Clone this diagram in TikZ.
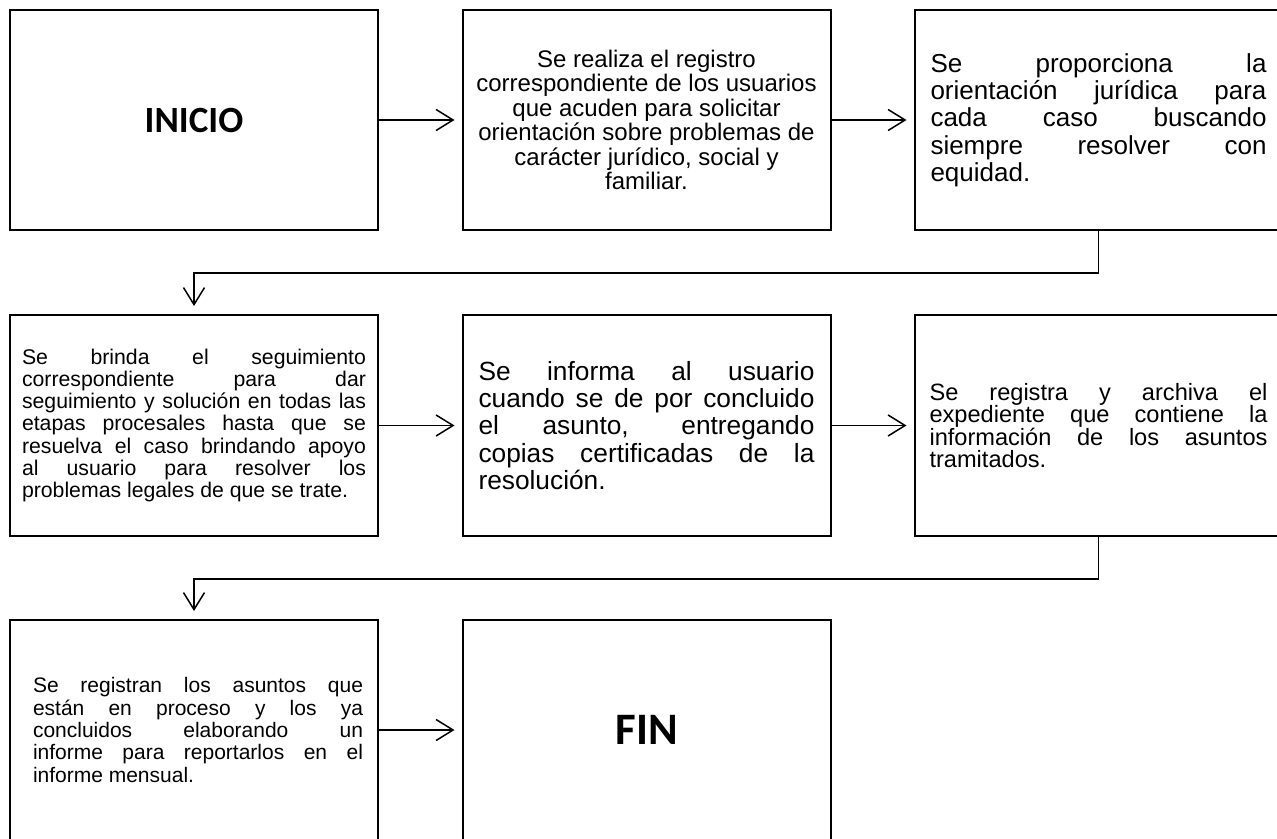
\documentclass[tikz,border=0pt]{standalone}
\usepackage{fontspec}
\setmainfont{Liberation Sans}
\newfontfamily\calib{Carlito}
\usetikzlibrary{arrows.meta}
\begin{document}
\begin{tikzpicture}[x=1pt,y=-1pt,
  box/.style={draw=black, line width=2pt, fill=white, inner sep=0pt,
    minimum width=368pt, minimum height=220pt},
  jtext/.style={align=justify, text width=#1},
  conn/.style={line width=1.5pt, draw=black,
    -{Straight Barb[length=17pt,width=21pt,line width=1.5pt]}},
  fs/.style n args={2}{font={\fontsize{#1}{#2}\selectfont\lineskiplimit=-100pt\tolerance=10000\hyphenpenalty=10000\relax}}
]
\useasboundingbox (0,0) rectangle (1277,838);
\clip (0,0) rectangle (1277,838);
\fill[white] (0,0) rectangle (1277,838);

% Row 1
\node[box] (b1) at (194,120) {\calib\fontsize{37}{40}\selectfont\bfseries INICIO};
\node[box, align=center, fs={24}{24.5}] (b2) at (646.5,120)
  {Se realiza el registro\\correspondiente de los usuarios\\que acuden para solicitar\\orientación sobre problemas de\\carácter jurídico, social y\\familiar.};
\node[box, jtext=336pt, fs={26}{27.3}] (b3) at (1098.5,120)
  {Se proporciona la\linebreak orientación jurídica para\linebreak cada caso buscando\linebreak siempre resolver con\linebreak equidad.};

% Row 2
\node[box, minimum height=221pt, jtext=344pt, fs={21.25}{22.1}] (b4) at (194,425.5)
  {Se brinda el seguimiento\linebreak correspondiente para dar\linebreak seguimiento y solución en todas las\linebreak etapas procesales hasta que se\linebreak resuelva el caso brindando apoyo\linebreak al usuario para resolver los\linebreak problemas legales de que se trate.};
\node[box, minimum height=221pt, jtext=336pt, fs={26.3}{27.3}] (b5) at (646.5,425.5)
  {Se informa al usuario\linebreak cuando se de por concluido\linebreak el asunto, entregando\linebreak copias certificadas de la\linebreak resolución.};
\node[box, minimum height=221pt, jtext=338pt, fs={23.6}{22.2}] (b6) at (1098.5,425.5)
  {Se registra y archiva el\linebreak expediente que contiene la\linebreak información de los asuntos\linebreak tramitados.};

% Row 3
\node[box] (b7) at (194,730) {};
\node[jtext=330pt, fs={21}{22.3}, inner sep=0pt] (b7t) at (198,730)
  {Se registran los asuntos que\linebreak están en proceso y los ya\linebreak concluidos elaborando un\linebreak informe para reportarlos en el\linebreak informe mensual.};
\node[box] (b8) at (646.5,730) {\calib\fontsize{45}{48}\selectfont\bfseries FIN};

% Connectors
\draw[conn, shorten >=7pt] (b1.east) -- (b2.west);
\draw[conn, shorten >=7pt] (b2.east) -- (b3.west);
\draw[conn, shorten >=8pt] (b3.south) -- ++(0,42) -| (b4.north);
\draw[conn, shorten >=7pt] (b4.east) -- (b5.west);
\draw[conn, shorten >=7pt] (b5.east) -- (b6.west);
\draw[conn, shorten >=8pt] (b6.south) -- ++(0,42) -| (b7.north);
\draw[conn, shorten >=7pt] (b7.east) -- (b8.west);
\end{tikzpicture}
\end{document}
